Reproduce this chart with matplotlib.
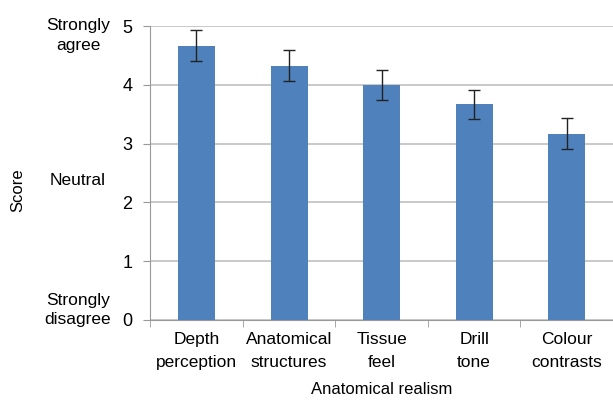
import numpy as np
import matplotlib.pyplot as plt

plt.rcParams['font.family'] = ['Liberation Sans', 'DejaVu Sans']

categories = ["Depth\nperception", "Anatomical\nstructures", "Tissue\nfeel",
              "Drill\ntone", "Colour\ncontrasts"]
scores = [4.67, 4.33, 4.00, 3.67, 3.17]
errors = [0.26, 0.26, 0.26, 0.25, 0.26]
y_ticks = [0, 1, 2, 3, 4, 5]
scale_labels = ["Strongly\nagree", "Neutral", "Strongly\ndisagree"]
scale_values = [4.84, 2.38, 0.17]

fig = plt.figure(figsize=(6.13, 4.03), dpi=100)
ax = fig.add_axes([0.245, 0.206, 0.755, 0.729])

x = np.arange(len(categories))
ax.bar(x, scores, width=0.4, color='#4F81BD', zorder=3)
ax.errorbar(x, scores, yerr=errors, fmt='none', ecolor='#222222',
            elinewidth=1, capsize=4, capthick=1, zorder=4)

ax.set_ylim(0, 5)
ax.set_xlim(-0.5, len(categories) - 0.5)
ax.set_yticks(y_ticks)
ax.yaxis.grid(True, color='#C0C0C0', linewidth=1.2, zorder=0)

ax.set_xticks(x)
ax.set_xticklabels(categories, linespacing=1.6)
ax.set_xticks(np.arange(-0.5, len(categories)), minor=True)
ax.tick_params(axis='x', which='major', length=0, pad=9, labelsize=12.5)
ax.tick_params(axis='x', which='minor', length=5, color='#999999')
ax.tick_params(axis='y', length=5, color='#999999', labelsize=13, pad=8)

for side in ['top', 'right']:
    ax.spines[side].set_visible(False)
for side in ['left', 'bottom']:
    ax.spines[side].set_color('#999999')

for lab, val in zip(scale_labels, scale_values):
    fig.text(78 / 613, 1 - (320 - val * 58.8) / 403, lab, ha='center',
             va='center', fontsize=12.5, linespacing=1.35)

ax.set_xlabel("Anatomical realism", fontsize=12, labelpad=9)
fig.text(18 / 613, 1 - 190 / 403, "Score", rotation=90, ha='center',
         va='center', fontsize=12)

fig.savefig("out.png", dpi=100)
